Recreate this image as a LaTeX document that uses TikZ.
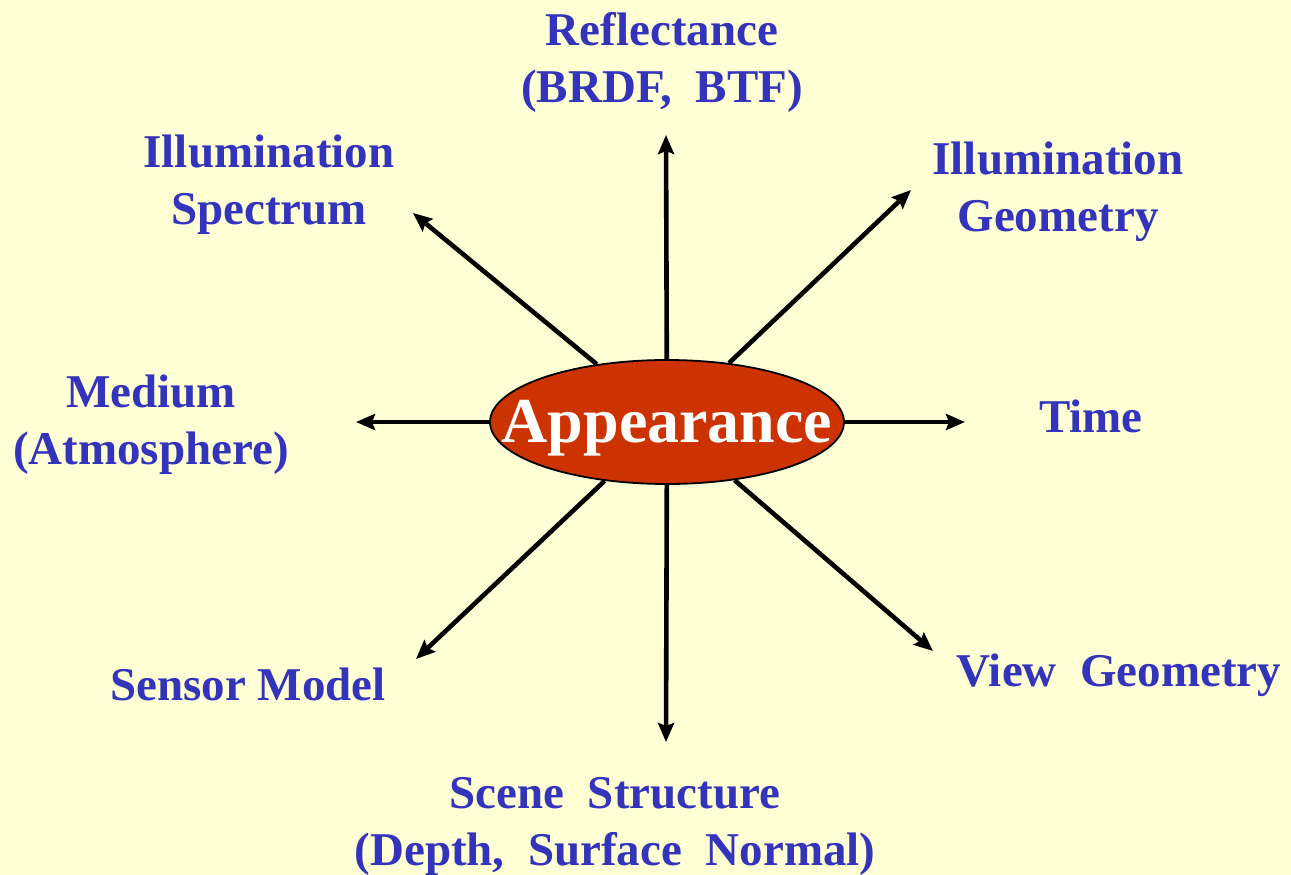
\documentclass[tikz,border=0pt]{standalone}
\usepackage{fontspec}
\setmainfont{Liberation Serif}
\usetikzlibrary{shapes.geometric,arrows.meta}
\definecolor{bgc}{HTML}{FFFFD6}
\definecolor{lblc}{HTML}{3333BB}
\definecolor{appc}{HTML}{CC3300}
\tikzset{
  lbl/.style={text=lblc, font=\fontsize{47}{57}\selectfont\bfseries, align=center, inner sep=0pt},
  conn/.style={line width=4.6pt, -{Stealth[length=19pt,width=16pt,inset=3pt]}},
  hub/.style={ellipse, draw=black, line width=1.8pt, fill=appc, minimum width=354pt, minimum height=124pt, inner sep=0pt},
  hubtext/.style={text=white, inner sep=0pt, font=\fontsize{64}{70}\selectfont\bfseries}
}
\begin{document}
\begin{tikzpicture}[x=1pt,y=-1pt]
\fill[bgc] (0,0) rectangle (1291,875);
\useasboundingbox (0,0) rectangle (1291,875);
\coordinate (cc) at (667,422);
\coordinate (tU) at (666,135);
\coordinate (tD) at (666,742);
\coordinate (tL) at (356,422);
\coordinate (tR) at (965,422);
\coordinate (tUL) at (413,213);
\coordinate (tUR) at (911,190);
\coordinate (tDL) at (416,659);
\coordinate (tDR) at (933,651);
\node[hub] (app) at (cc) {};
\node[hubtext] (apptxt) at (667,428) {Appearance};
\draw[conn] (app) -- (tU);
\draw[conn] (app) -- (tD);
\draw[conn] (app) -- (tL);
\draw[conn] (app) -- (tR);
\draw[conn] (app) -- (tUL);
\draw[conn] (app) -- (tUR);
\draw[conn] (app) -- (tDL);
\draw[conn] (app) -- (tDR);
\node[lbl] (refl) at (662,62) {Reflectance\\(BRDF,\ \ BTF)};
\node[lbl] (ispec) at (269,185) {Illumination\\Spectrum};
\node[lbl] (igeo) at (1058,192) {Illumination\\Geometry};
\node[lbl] (med) at (151,425) {Medium\\(Atmosphere)};
\node[lbl] (time) at (1091,416) {Time};
\node[lbl] (sens) at (248,684) {Sensor Model};
\node[lbl] (view) at (1119,675) {View\ \ Geometry};
\node[lbl] (scene) at (615,826) {Scene\ \ Structure\\(Depth,\ \ Surface\ \ Normal)};
\end{tikzpicture}
\end{document}
